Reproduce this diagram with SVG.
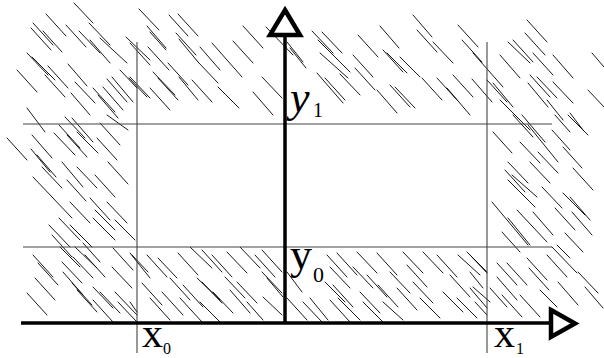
<svg xmlns="http://www.w3.org/2000/svg" width="604" height="358" viewBox="0 0 604 358">
<style>
.h{fill:none;stroke:#000;stroke-width:0.9;stroke-linecap:round}
.g{fill:none;stroke:#444;stroke-width:1.1}
.ax{fill:none;stroke:#000;stroke-width:3.5}
.ar{fill:#fff;stroke:#000;stroke-width:4.5;stroke-linejoin:miter}
.t{font-family:"Liberation Serif","Times New Roman",serif;fill:#000}
</style>
<defs>
<clipPath id="hc"><path clip-rule="evenodd" d="M0 0H604V323H0Z M137 124V247H487V124Z"/></clipPath>
</defs>
<rect width="604" height="358" fill="#fff"/>
<g id="hatching" clip-path="url(#hc)">
<path class="h" d="M74 3L93 23M89 23L110 45M46 14L66 36M33 23L53 45M31 28L51 50M43 31L62 52M66 25L86 47M79 31L100 53M90 40L110 63M100 38L127 63M126 37L150 60M139 9L159 30M27 53L48 75M32 57L55 80M17 70L37 92M48 66L68 88M45 75L65 97M68 64L87 86M75 82L95 103M71 93L90 115M93 88L115 112M107 79L127 102M112 77L133 102M120 70L137 88M98 95L118 118M103 87L123 110M27 108L45 132M129 78L147 97
M7 138L27 160M32 135L52 158M31 149L50 172M37 155L56 177M42 167L62 188M33 177L53 198M54 133L75 155M59 125L80 148M65 117L85 138M72 118L93 142M77 132L98 153M67 135L87 157M97 138L117 160M100 123L120 145M107 115L128 130M62 162L83 187M77 167L97 188M95 175L115 197M108 162L128 184M67 180L86 201M52 197L72 218M70 202L90 223M90 198L110 220M95 210L115 230M107 202L127 223M49 225L70 247M59 218L80 240M70 225L92 247M93 218L115 240M115 220L135 240M52 235L72 257M60 247L80 267M75 247L97 268M33 255L53 277M38 263L58 285M35 278L55 300M27 293L47 315M62 262L82 283M73 257L93 278M85 255L105 277M63 272L83 295M72 283L92 305M77 290L97 312M93 287L113 308M100 292L120 313M113 248L133 270M112 267L132 288M115 292L137 315M93 300L113 322M118 302L137 322M132 255L148 272M83 243L100 262
M147 26L166 48M150 32L166 50M169 15L188 36M178 14L198 36M176 33L196 55M179 39L198 62M148 47L169 70M153 72L175 95M158 78L178 100M168 63L188 85M150 88L170 110M130 43L150 65M130 77L150 98M179 77L198 100M192 80L212 102M200 47L220 70M212 43L242 77M198 62L218 83M218 87L239 108M233 41L253 63M243 26L263 48M262 77L282 98M253 92L273 115M266 27L293 55M287 42L303 62M290 48L306 68
M312 31L333 53M322 32L342 53M318 40L350 72M320 53L348 78M317 73L343 103M325 78L345 100M340 74L360 95M358 35L378 57M353 55L373 77M355 68L375 90M377 90L397 113M380 26L399 48M383 50L403 72M387 53L407 73M400 57L420 77M390 85L410 107M395 87L415 108M413 15L432 37M417 30L437 52M433 42L453 63M422 78L442 100M437 78L457 100M447 88L470 115M453 75L473 97M458 25L478 47M462 40L482 62M473 53L503 87M472 79L492 102M487 80L507 102M493 83L513 107M500 55L520 78M508 42L530 63M513 40L533 62M527 20L547 42M525 33L545 55M533 53L553 75M530 75L550 97M528 83L548 107M537 77L557 98M553 55L573 78M553 82L573 103M570 113L583 130M592 53L604 67M588 90L604 107M500 100L520 120M513 113L530 130M547 100L563 120
M493 132L512 153M513 115L533 137M522 115L545 142M528 125L558 162M520 142L540 163M538 152L558 173M552 130L570 150M563 147L582 168M555 115L570 132M568 115L588 135M508 162L528 183M505 170L525 192M508 180L535 207M512 175L537 197M573 168L593 190M542 187L562 208M530 162L550 183M563 193L585 215M570 197L590 220M572 212L592 235M555 208L575 230M492 202L528 245M508 218L530 245M517 210L547 242M533 212L553 235M502 232L520 252M552 247L577 273M557 245L570 258M565 233L583 252M578 272L598 293M585 287L603 308M558 282L578 305M547 255L567 277M527 258L547 280M529 268L549 290M507 263L527 285M497 263L517 285M497 277L517 300M502 295L522 317M520 295L540 317M540 290L557 307M490 288L507 307M470 255L487 273M470 272L483 288M470 288L487 308M475 302L487 315
M130 253L150 278M147 255L167 277M158 258L177 278M178 253L198 275M190 247L212 268M202 250L222 272M212 255L232 277M227 252L247 273M240 247L260 268M255 255L275 277M262 250L282 272M142 283L162 305M162 292L183 315M150 298L170 320M170 278L190 300M183 285L203 307M197 278L220 300M202 282L222 303M180 298L202 322M200 302L220 322M213 292L233 313M225 277L245 298M230 290L250 313M237 282L257 303M247 302L263 320M262 272L282 293M267 278L283 297M263 297L282 315M130 302L137 312
M287 272L302 292M287 298L307 320M303 302L322 322M310 298L328 320M327 255L347 277M337 253L357 275M330 267L350 288M325 282L345 302M333 285L353 307M330 300L350 322M338 298L360 320M357 252L377 273M353 267L373 288M377 253L397 275M378 285L398 307M360 292L380 313M363 302L383 322M390 272L410 293M403 252L423 273M397 288L417 310M383 302L403 320M413 282L433 303M407 265L427 287M423 252L443 273M437 255L457 277M450 275L470 297M458 255L480 275M467 252L487 272M473 287L490 302M443 292L463 312M457 298L477 318M420 298L440 318M367 275L387 297"/>
</g>
<g id="grid">
<line class="g" x1="23" y1="124" x2="552" y2="124"/>
<line class="g" x1="23" y1="247" x2="552" y2="247"/>
<line class="g" x1="137" y1="42" x2="137" y2="353"/>
<line class="g" x1="487" y1="42" x2="487" y2="353"/>
</g>
<g id="axes">
<line class="ax" x1="21" y1="323" x2="551" y2="323"/>
<line class="ax" x1="285" y1="35" x2="285" y2="323"/>
<path class="ar" d="M551 310L575 323.5L551 337Z"/>
<path class="ar" d="M285 10L300 35L270 35Z"/>
</g>
<g id="labels">
<text class="t" x="290" y="112" font-size="44" font-style="italic">y</text>
<text class="t" x="313" y="117" font-size="20">1</text>
<text class="t" x="290" y="269" font-size="44">y</text>
<text class="t" x="313" y="282" font-size="22">0</text>
<text class="t" x="142" y="347" font-size="42">x</text>
<text class="t" x="163" y="354" font-size="16">0</text>
<text class="t" x="494" y="347" font-size="42">x</text>
<text class="t" x="516" y="354" font-size="16">1</text>
</g>
</svg>
